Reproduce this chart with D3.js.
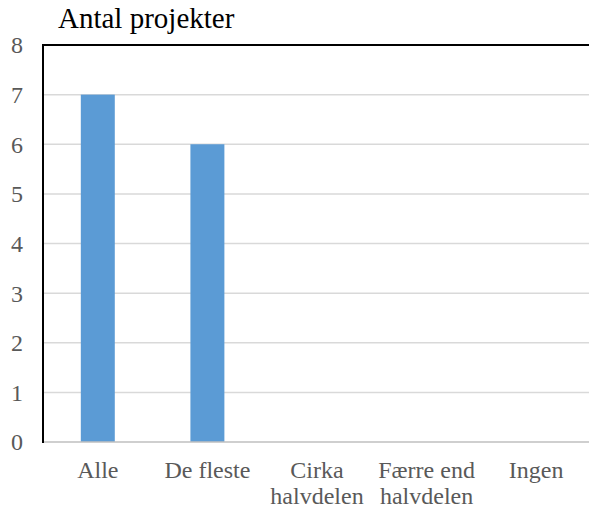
<!DOCTYPE html>
<html>
<head>
<meta charset="utf-8">
<script src="https://cdn.jsdelivr.net/npm/d3@7"></script>
<style>
  body { margin: 0; background: #fff; }
</style>
</head>
<body>
<div id="chart"></div>
<script>
const categories = [['Alle'], ['De fleste'], ['Cirka', 'halvdelen'], ['Færre end', 'halvdelen'], ['Ingen']];
const values = [7, 6, 0, 0, 0];
const yTicks = [0, 1, 2, 3, 4, 5, 6, 7, 8];

const width = 589;
const height = 508;
const margin = { top: 45, right: -2, bottom: 66, left: 43 };
const serif = 'Liberation Serif';

const svg = d3.select('#chart').append('svg')
  .attr('width', width)
  .attr('height', height);

const x = d3.scaleBand()
  .domain(categories.map((d, i) => i))
  .range([margin.left, width - margin.right])
  .paddingInner(0.69)
  .paddingOuter(0.345);

const y = d3.scaleLinear()
  .domain([0, 8])
  .range([height - margin.bottom, margin.top]);

// gridlines
svg.append('g')
  .selectAll('line')
  .data(yTicks.filter(d => d > 0 && d < 8))
  .enter().append('line')
  .attr('x1', margin.left)
  .attr('x2', width)
  .attr('y1', d => y(d))
  .attr('y2', d => y(d))
  .attr('stroke', '#d9d9d9')
  .attr('stroke-width', 1.5);

// bars
svg.append('g')
  .selectAll('rect')
  .data(values)
  .enter().append('rect')
  .attr('x', (d, i) => x(i))
  .attr('width', x.bandwidth())
  .attr('y', d => y(d))
  .attr('height', d => y(0) - y(d))
  .attr('fill', '#5b9bd5');

// bottom axis line
svg.append('line')
  .attr('x1', margin.left)
  .attr('x2', width)
  .attr('y1', y(0))
  .attr('y2', y(0))
  .attr('stroke', '#bfbfbf')
  .attr('stroke-width', 1.5);

// top frame line
svg.append('line')
  .attr('x1', margin.left)
  .attr('x2', width)
  .attr('y1', y(8))
  .attr('y2', y(8))
  .attr('stroke', '#000')
  .attr('stroke-width', 2);

// left axis line
svg.append('line')
  .attr('x1', margin.left)
  .attr('x2', margin.left)
  .attr('y1', y(8) - 1)
  .attr('y2', y(0) + 1)
  .attr('stroke', '#000')
  .attr('stroke-width', 2);

// y tick labels
svg.append('g')
  .selectAll('text')
  .data(yTicks)
  .enter().append('text')
  .attr('x', 23)
  .attr('y', d => y(d))
  .attr('dy', '0.35em')
  .attr('text-anchor', 'end')
  .attr('fill', '#595959')
  .attr('font-family', serif)
  .attr('font-size', 24)
  .text(d => d);

// category labels
const labels = svg.append('g')
  .selectAll('text')
  .data(categories)
  .enter().append('text')
  .attr('x', (d, i) => x(i) + x.bandwidth() / 2)
  .attr('y', 478)
  .attr('text-anchor', 'middle')
  .attr('fill', '#595959')
  .attr('font-family', serif)
  .attr('font-size', 24);

labels.selectAll('tspan')
  .data(d => d)
  .enter().append('tspan')
  .attr('x', function () { return this.parentNode.getAttribute('x'); })
  .attr('dy', (d, i) => i === 0 ? 0 : 26)
  .text(d => d);

// title
svg.append('text')
  .attr('x', 58)
  .attr('y', 28)
  .attr('fill', '#000')
  .attr('font-family', serif)
  .attr('font-size', 29)
  .text('Antal projekter');
</script>
</body>
</html>
